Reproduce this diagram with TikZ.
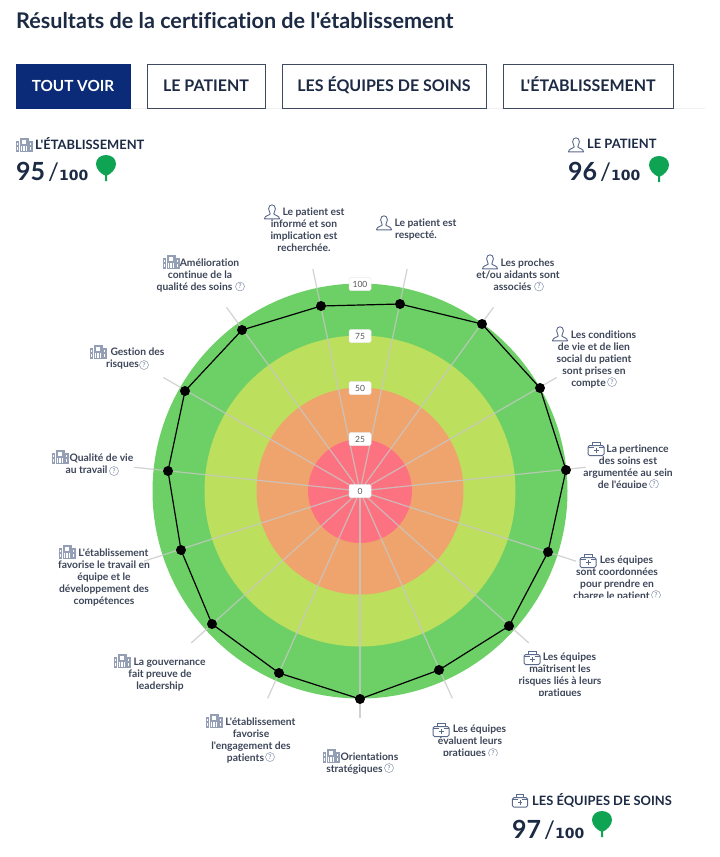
\documentclass[tikz,border=0pt]{standalone}
\usepackage{fontspec}
\usetikzlibrary{calc}
\setmainfont{Lato}[Ligatures={NoCommon,TeXOff}]
\newfontfamily\widefont{DejaVu Sans}
\definecolor{navy}{HTML}{0B2A78}
\definecolor{ink}{HTML}{1C2A44}
\definecolor{lab}{HTML}{3D4659}
\definecolor{icn}{HTML}{5A6A8C}
\definecolor{ringa}{HTML}{6DD066}
\definecolor{ringb}{HTML}{BDDF5E}
\definecolor{ringc}{HTML}{EFA46E}
\definecolor{ringd}{HTML}{FD7280}
\definecolor{pingreen}{HTML}{0FA354}
\newcommand{\ic}{\hspace*{19pt}}
\newcommand{\hp}{\hspace*{11pt}}
\newcommand{\outof}{{\fontsize{24}{26}\selectfont\mdseries /}{\widefont\bfseries\fontsize{14}{15}\selectfont 100}}
\tikzset{
  x=1pt,y=-1pt,
  lbl/.style={font=\fontsize{10.3}{12}\selectfont\bfseries,text=lab,align=center,anchor=north,inner sep=0pt},
  tabbox/.style={draw=ink!85,line width=.8pt,fill=white,text=ink,font=\fontsize{16}{18}\selectfont\bfseries,inner sep=0pt,text height=11.5pt,text depth=0pt},
  head/.style={font=\fontsize{12.9}{15}\selectfont\bfseries,text=ink,anchor=west,inner sep=0pt},
  scorebig/.style={font=\fontsize{25}{27}\selectfont\bfseries,text=ink,anchor=base west,inner sep=0pt},
  scoresmall/.style={font=\fontsize{16}{18}\selectfont\bfseries,text=ink,anchor=base west,inner sep=0pt},
  axisval/.style={fill=white,rounded corners=1.5pt,minimum width=22pt,minimum height=13pt,inner sep=0pt,
    font=\fontsize{8.5}{9}\selectfont,text=black!65,draw=black!8,line width=.5pt},
  helpm/.style={circle,draw=icn!70,line width=.5pt,minimum size=9pt,inner sep=0pt,text=icn,font=\fontsize{6.5}{7}\selectfont},
  spoke/.style={draw=black!22,draw opacity=.8,line width=1.2pt},
  dot/.style={circle,fill=black,minimum size=10pt,inner sep=0pt},
  person/.pic={
    \draw[icn,line width=.9pt,line join=round] (-3.4,-3.2) .. controls (-3.4,-8.5) and (3.4,-8.5) .. (3.4,-3.2)
      .. controls (3.4,-1) and (1.9,0) .. (1.8,2) .. controls (3,3.5) and (7.2,3.5) .. (7.6,6.8) -- (-7.6,6.8)
      .. controls (-7.2,3.5) and (-3,3.5) .. (-1.8,2) .. controls (-1.9,0) and (-3.4,-1) .. (-3.4,-3.2) -- cycle;
  },
  build/.pic={
    \fill[icn!65] (-4.5,-7) rectangle (4.5,7);
    \fill[icn!65] (-8.5,-4) rectangle (-5,7);
    \fill[icn!65] (5,-4) rectangle (8.5,7);
    \fill[white] (-1.6,-5.2) rectangle (1.6,-1.4);
    \foreach \xx in {-3.4,-.6,2.2}{\fill[white] (\xx,1) rectangle (\xx+1.2,5.8);}
    \foreach \xx in {-7.4,6.2}{\fill[white] (\xx,-2.4) rectangle (\xx+1.2,-.2);\fill[white] (\xx,1.8) rectangle (\xx+1.2,5);}
  },
  kit/.pic={
    \draw[icn,line width=1pt,rounded corners=1.5pt] (-8,-3.5) rectangle (8,6.5);
    \draw[icn,line width=1pt] (-4,-3.5) -- (-4,-7) -- (4,-7) -- (4,-3.5);
    \draw[icn,line width=.8pt] (-8,-1.5) -- (-2.5,-1.5) (2.5,-1.5) -- (8,-1.5);
    \draw[icn,line width=1pt] (-2.5,1.5) -- (2.5,1.5) (0,-1) -- (0,4);
  },
  pinmark/.pic={
    \fill[pingreen] (0,-11) .. controls (6,-11) and (10,-7) .. (10,-2) .. controls (10,3) and (5,8) .. (1,9.5)
      -- (1,15) -- (-1,15) -- (-1,9.5) .. controls (-5,8) and (-10,3) .. (-10,-2) .. controls (-10,-7) and (-6,-11) .. (0,-11) -- cycle;
  }
}
\begin{document}
\begin{tikzpicture}
\useasboundingbox (0,0) rectangle (720,857);
\fill[white] (0,0) rectangle (720,857);
% title
\node[font=\fontsize{21.6}{23}\selectfont\bfseries,text=ink,anchor=west,inner sep=0pt] (title) at (16,21) {Résultats de la certification de l'établissement};
% tabs
\draw[black!6,line width=.7pt] (16,108.5) -- (705,108.5);
\node[tabbox,fill=navy,draw=navy,text=white,minimum width=114pt,minimum height=44pt,font=\fontsize{15.3}{18}\selectfont\bfseries] (tab1) at (73,86) {TOUT VOIR};
\node[tabbox,minimum width=118pt,minimum height=44pt] (tab2) at (206,86) {LE PATIENT};
\node[tabbox,minimum width=204pt,minimum height=44pt] (tab3) at (384,86) {LES ÉQUIPES DE SOINS};
\node[tabbox,minimum width=170pt,minimum height=44pt] (tab4) at (588,86) {L'ÉTABLISSEMENT};
% scores
\pic at (24,145) {build};
\node[head] (hE) at (35,144) {L'ÉTABLISSEMENT};
\node[scorebig] (sE) at (16,180) {95};
\node[scoresmall] (sE2) at (48,180) {\outof};
\pic at (106,166) {pinmark};
\pic at (576,145) {person};
\node[head] (hP) at (587,144) {LE PATIENT};
\node[scorebig] (sP) at (568,180) {96};
\node[scoresmall] (sP2) at (600,180) {\outof};
\pic at (659,167) {pinmark};
\pic[scale=.95] at (520,801) {kit};
\node[head] (hS) at (532,800) {LES ÉQUIPES DE SOINS};
\node[scorebig] (sS) at (512,838) {97};
\node[scoresmall] (sS2) at (544,838) {\outof};
\pic at (602,822) {pinmark};
% rings
\coordinate (c) at (360,491);
\fill[ringa] (c) circle[radius=207.5pt];
\fill[ringb] (c) circle[radius=155.5pt];
\fill[ringc] (c) circle[radius=103.5pt];
\fill[ringd] (c) circle[radius=52pt];
% spokes
\foreach \i in {1,...,15}{
  \pgfmathsetmacro{\ang}{-78+24*(\i-1)}
  \coordinate (s\i) at ($(c)+(\ang:227)$);
  \draw[spoke] (c) -- (s\i);
}
% data
\node[dot] (p1) at (400,304) {};
\node[dot] (p2) at (482,324) {};
\node[dot] (p3) at (540,388) {};
\node[dot] (p4) at (566,470) {};
\node[dot] (p5) at (548,552) {};
\node[dot] (p6) at (509,626) {};
\node[dot] (p7) at (439,670) {};
\node[dot] (p8) at (360,699) {};
\node[dot] (p9) at (279,673) {};
\node[dot] (p10) at (212,624) {};
\node[dot] (p11) at (181,550) {};
\node[dot] (p12) at (168,471) {};
\node[dot] (p13) at (185,391) {};
\node[dot] (p14) at (242,330) {};
\node[dot] (p15) at (321,306) {};
\draw[black,line width=1.2pt] (p1.center) -- (p2.center) -- (p3.center) -- (p4.center) -- (p5.center) -- (p6.center) -- (p7.center) -- (p8.center) -- (p9.center) -- (p10.center) -- (p11.center) -- (p12.center) -- (p13.center) -- (p14.center) -- (p15.center) -- cycle;
% axis values
\node[axisval] (a100) at (360,284) {100};
\node[axisval] (a75) at (360,336) {75};
\node[axisval] (a50) at (360,388) {50};
\node[axisval] (a25) at (360,439) {25};
\node[axisval] (a0) at (360,491) {0};
% labels
\pic at (272,212) {person};
\node[lbl] (l1) at (304,208) {\ic Le patient est\\informé et son\\implication est\\recherchée.};
\pic at (384,223) {person};
\node[lbl] (l2) at (416,219) {\ic Le patient est\\respecté.};
\pic at (490,262) {person};
\node[lbl] (l3) at (518,259) {\ic Les proches\\et/ou aidants sont\\associés\hp};
\node[helpm] (h3) at (539,286.5) {?};
\pic at (560,334) {person};
\node[lbl] (l4) at (594,331) {\ic Les conditions\\de vie et de lien\\social du patient\\sont prises en\\compte\hp};
\node[helpm] (h4) at (612,382) {?};
\begin{scope}
\clip (560,440) rectangle (700,487);
\node[lbl] (l5) at (628,445) {\ic La pertinence\\des soins est\\argumentée au sein\\de l'équipe\hp};
\node[helpm] (h5) at (654,484) {?};
\end{scope}
\pic at (596,449) {kit};
\begin{scope}
\clip (560,550) rectangle (700,597);
\node[lbl] (l6) at (617,556) {\ic Les équipes\\sont coordonnées\\pour prendre en\\charge le patient\hp};
\node[helpm] (h6) at (656,595) {?};
\end{scope}
\pic at (588,561) {kit};
\begin{scope}
\clip (505,648) rectangle (620,695);
\node[lbl] (l7) at (560,653) {\ic Les équipes\\maîtrisent les\\risques liés à leurs\\pratiques};
\end{scope}
\pic at (532,658) {kit};
\begin{scope}
\clip (425,720) rectangle (520,755);
\node[lbl] (l8) at (470,725) {\ic Les équipes\\évaluent leurs\\pratiques\hp};
\node[helpm] (h8) at (493,753) {?};
\end{scope}
\pic at (441,730) {kit};
\pic at (331,756) {build};
\node[lbl] (l9) at (360,753) {\ic Orientations\\stratégiques\hp};
\node[helpm] (h9) at (389,768) {?};
\pic at (214,721) {build};
\node[lbl] (l10) at (251,718) {\ic L'établissement\\favorise\\l'engagement des\\patients\hp};
\node[helpm] (h10) at (270,757) {?};
\pic at (122,661) {build};
\node[lbl] (l11) at (160,658) {\ic La gouvernance\\fait preuve de\\leadership};
\pic at (67,552) {build};
\node[lbl] (l12) at (104,549) {\ic L'établissement\\favorise le travail en\\équipe et le\\développement des\\compétences};
\pic at (60,457) {build};
\node[lbl] (l13) at (92,454) {\ic Qualité de vie\\au travail\hp};
\node[helpm] (h13) at (114,471) {?};
\pic at (98,352) {build};
\node[lbl] (l14) at (128,348) {\ic Gestion des\\risques\hp};
\node[helpm] (h14) at (144,365) {?};
\pic at (171,262) {build};
\node[lbl] (l15) at (200,259) {\ic Amélioration\\continue de la\\qualité des soins\hp};
\node[helpm] (h15) at (240,286.5) {?};
\end{tikzpicture}
\end{document}
